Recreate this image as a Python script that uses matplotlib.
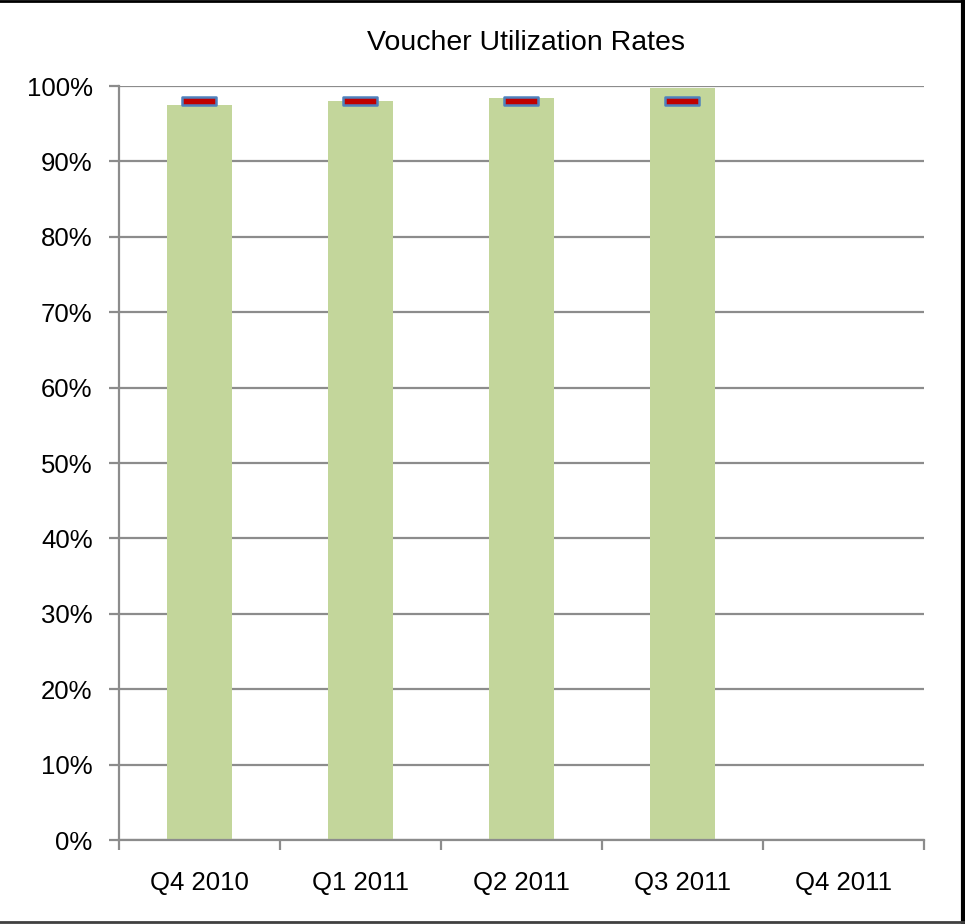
import matplotlib.pyplot as plt
import numpy as np
from matplotlib.path import Path
from matplotlib.lines import Line2D

quarters = ['Q4 2010', 'Q1 2011', 'Q2 2011', 'Q3 2011', 'Q4 2011']
utilization = [97.5, 98.0, 98.4, 99.7, np.nan]   # percent
target = [98, 98, 98, 98, np.nan]

plt.rcParams['font.family'] = ['Liberation Sans', 'DejaVu Sans']

fig = plt.figure(figsize=(9.65, 9.24), dpi=100)
ax = fig.add_axes([0.1233, 0.0909, 0.8342, 0.816])

x = np.arange(len(quarters)) + 0.5
ax.bar(x, utilization, width=0.4, color='#c3d69b', zorder=2)

# flat rectangle marker for the target
rect = Path([(-2, -0.5), (2, -0.5), (2, 0.5), (-2, 0.5), (-2, -0.5)],
            [Path.MOVETO, Path.LINETO, Path.LINETO, Path.LINETO, Path.CLOSEPOLY])
ax.plot(x, target, linestyle='none', marker=rect, markersize=24,
        markerfacecolor='#c00000', markeredgecolor='#4f81bd',
        markeredgewidth=1.8, zorder=3)

ax.set_xlim(0, len(quarters))
ax.set_ylim(0, 100)
ax.set_yticks(np.arange(0, 101, 10))
ax.set_yticklabels(['%d%%' % v for v in range(0, 101, 10)])
ax.yaxis.grid(True, color='#8c8c8c', linewidth=1.6, zorder=1)
ax.set_axisbelow(True)

ax.set_xticks(x)
ax.set_xticklabels(quarters)
ax.set_xticks(np.arange(len(quarters) + 1), minor=True)
ax.tick_params(axis='x', which='major', length=0, pad=22, labelsize=18.5)
ax.tick_params(axis='x', which='minor', length=7, width=1.6, color='#8c8c8c')
ax.tick_params(axis='y', length=7, width=1.6, color='#8c8c8c', pad=12,
               labelsize=18.5)

for s in ['top', 'right']:
    ax.spines[s].set_visible(False)
for s in ['left', 'bottom']:
    ax.spines[s].set_color('#8c8c8c')
    ax.spines[s].set_linewidth(1.6)

fig.text(0.545, 0.954, 'Voucher Utilization Rates', ha='center', va='center',
         fontsize=20.5)

# outer frame (top, right, bottom)
fig.add_artist(Line2D([0, 0.998], [0.999, 0.999], transform=fig.transFigure,
                      color='black', linewidth=2))
fig.add_artist(Line2D([0.9975, 0.9975], [0.002, 0.999], transform=fig.transFigure,
                      color='black', linewidth=3))
fig.add_artist(Line2D([0, 0.998], [0.002, 0.002], transform=fig.transFigure,
                      color='#404040', linewidth=2))

fig.savefig('out.png', dpi=100)
